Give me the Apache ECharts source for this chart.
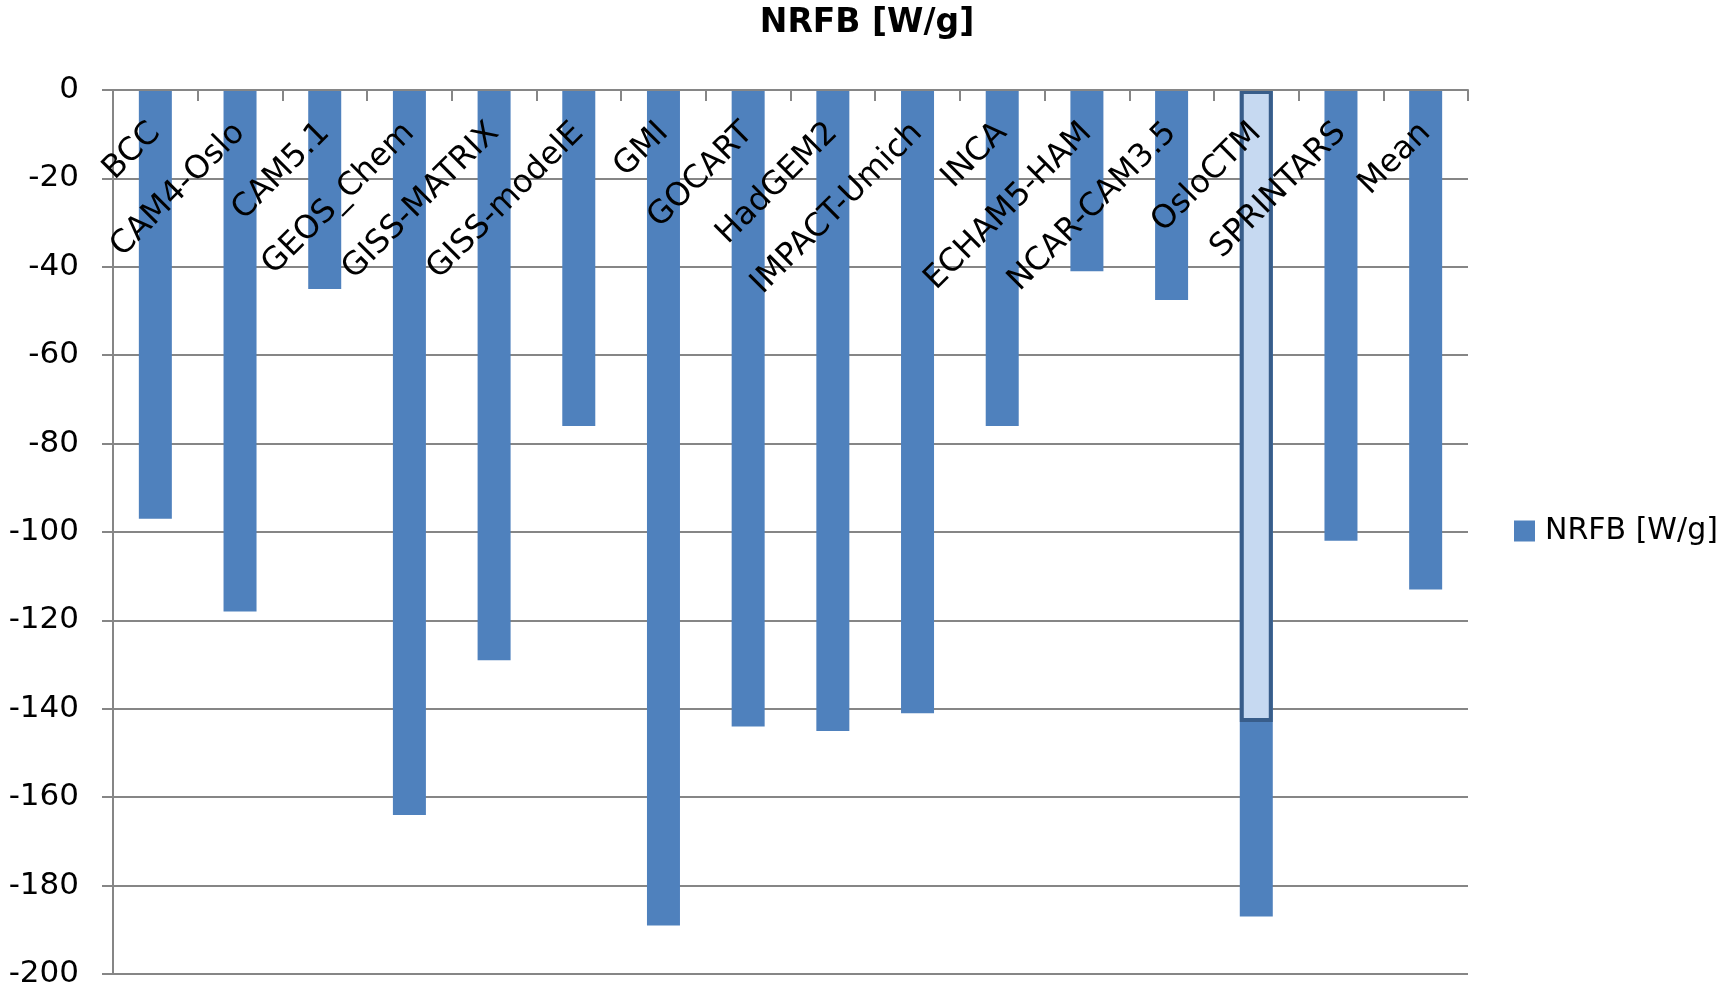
<!DOCTYPE html>
<html>
<head>
<meta charset="utf-8">
<script src="https://cdn.jsdelivr.net/npm/echarts@6/dist/echarts.min.js"></script>
<style>
html,body{margin:0;padding:0;background:#fff;}
#chart{width:1734px;height:990px;}
</style>
</head>
<body>
<div id="chart"></div>
<script>
var categories = ['BCC','CAM4-Oslo','CAM5.1','GEOS_Chem','GISS-MATRIX','GISS-modelE','GMI','GOCART','HadGEM2','IMPACT-Umich','INCA','ECHAM5-HAM','NCAR-CAM3.5','OsloCTM','SPRINTARS','Mean'];
var nrfbValues = [-97,-118,-45,-164,-129,-76,-189,-144,-145,-141,-76,-41,-47.5,-187,-102,-113];
var highlightValues = ['-','-','-','-','-','-','-','-','-','-','-','-','-',-143,'-','-'];
var seriesName = 'NRFB [W/g]';
var titleText = 'NRFB [W/g]';
var yMin = -200, yMax = 0, yStep = 20;

var FONT = '"DejaVu Sans", sans-serif';
var GRID = '#868686';
var chart = echarts.init(document.getElementById('chart'), null, {renderer:'canvas'});
chart.setOption({
  backgroundColor:'#ffffff',
  animation:false,
  title:{
    text:titleText, left:'center', top:7, padding:0,
    textStyle:{fontFamily:FONT, fontSize:33, fontWeight:'bold', color:'#000'}
  },
  legend:{
    data:[seriesName], left:1514, top:516, padding:0,
    itemWidth:21, itemHeight:21, icon:'rect',
    textStyle:{fontFamily:FONT, fontSize:30, color:'#000', padding:[0,0,0,5]}
  },
  grid:{left:113, right:266, top:90, bottom:16, containLabel:false, outerBoundsMode:'none'},
  xAxis:{
    type:'category', data:categories, boundaryGap:true, position:'top', z:10,
    axisLine:{show:true, onZero:false, lineStyle:{color:GRID, width:2}},
    axisTick:{show:true, inside:true, length:11, alignWithLabel:false, interval:0, lineStyle:{color:GRID, width:2}},
    axisLabel:{inside:true, interval:0, rotate:-45, margin:38, align:'right', verticalAlign:'middle', lineHeight:32, padding:[13,0,0,0],
      fontFamily:FONT, fontSize:32, color:'#000', hideOverlap:false},
    splitLine:{show:false}
  },
  yAxis:{
    type:'value', min:yMin, max:yMax, interval:yStep,
    axisLine:{show:true, lineStyle:{color:GRID, width:2}},
    axisTick:{show:true, length:11, lineStyle:{color:GRID, width:2}},
    axisLabel:{margin:34, fontFamily:FONT, fontSize:31, color:'#000'},
    splitLine:{show:true, lineStyle:{color:GRID, width:2}}
  },
  series:[
    {name:seriesName, type:'bar', data:nrfbValues, barWidth:33, barGap:'-100%',
     itemStyle:{color:'#4F81BD'}},
    {name:'highlight', type:'bar', data:highlightValues, barWidth:33, barGap:'-100%', z:3,
     itemStyle:{color:'#C6D9F1', borderColor:'#385D8A', borderWidth:4}}
  ]
});
</script>
</body>
</html>
